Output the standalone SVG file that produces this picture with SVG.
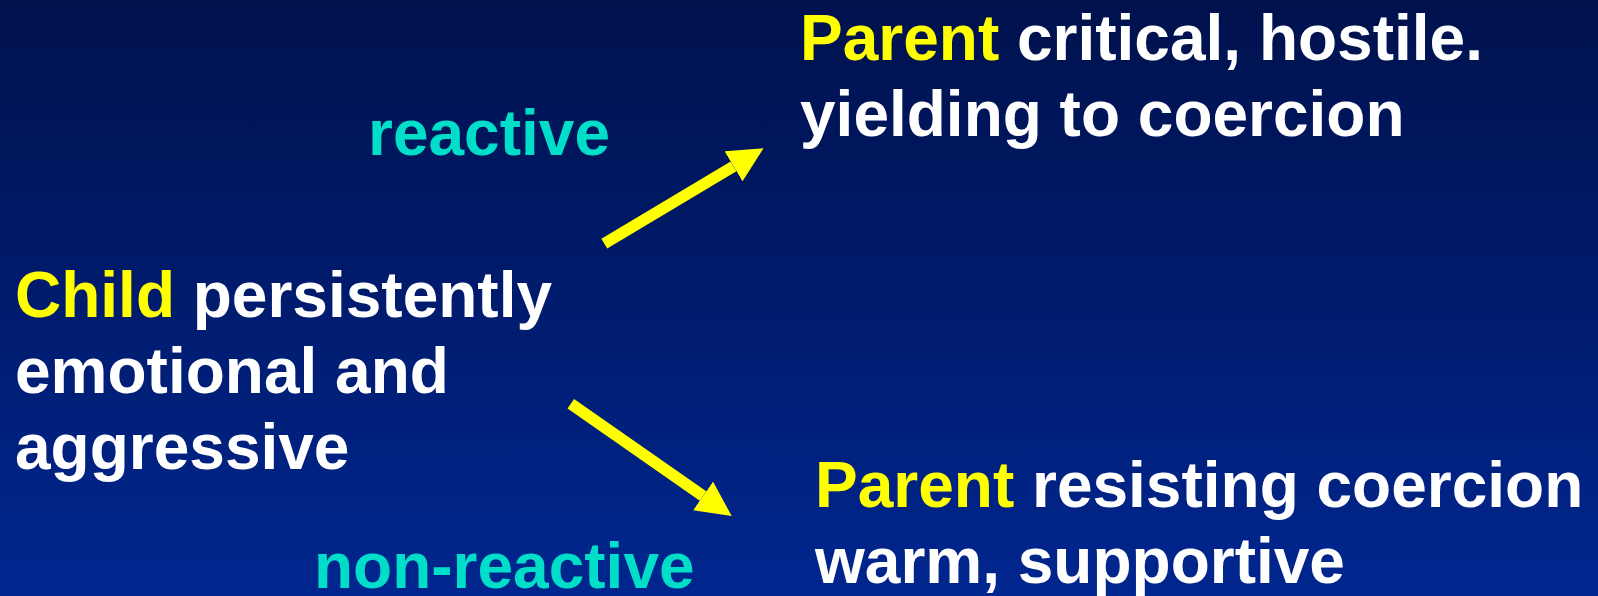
<svg xmlns="http://www.w3.org/2000/svg" width="1598" height="596" viewBox="0 0 1598 596">
  <defs>
    <linearGradient id="bg" x1="0" y1="0" x2="0" y2="1">
      <stop offset="0" stop-color="#00114C"/>
      <stop offset="1" stop-color="#00268F"/>
    </linearGradient>
    <marker id="ah" viewBox="0 0 35 35" refX="0" refY="17.5" markerWidth="35" markerHeight="35" markerUnits="userSpaceOnUse" orient="auto">
      <path d="M0,0 L35,17.5 L0,35 Z" fill="#FFFF00"/>
    </marker>
  </defs>
  <style>
    text { font-family: "Liberation Sans", Arial, sans-serif; font-weight: bold; font-size: 64px; }
    .w { fill: #FFFFFF; }
    .y { fill: #FFFF00; }
    .lbl { fill: #00DDC8; }
    .arrow { stroke: #FFFF00; stroke-width: 11.4; fill: none; }
  </style>
  <rect x="0" y="0" width="1598" height="596" fill="url(#bg)"/>

  <g id="connectors">
    <line class="arrow" x1="604.3" y1="243.7" x2="733.5" y2="166.3" marker-end="url(#ah)"/>
    <line class="arrow" x1="570.8" y1="403.8" x2="703" y2="496" marker-end="url(#ah)"/>
    <text class="lbl" x="368" y="155">reactive</text>
    <text class="lbl" x="314" y="588">non-reactive</text>
  </g>

  <g id="child">
    <text x="15" y="317"><tspan class="y">Child</tspan><tspan class="w"> persistently</tspan></text>
    <text class="w" x="15" y="393">emotional and</text>
    <text class="w" x="15" y="469">aggressive</text>
  </g>

  <g id="parent-reactive">
    <text x="800" y="60"><tspan class="y">Parent</tspan><tspan class="w"> critical, hostile.</tspan></text>
    <text class="w" x="800" y="136">yielding to coercion</text>
  </g>

  <g id="parent-nonreactive">
    <text x="815" y="507"><tspan class="y">Parent</tspan><tspan class="w"> resisting coercion</tspan></text>
    <text class="w" x="815" y="583">warm, supportive</text>
  </g>
</svg>
